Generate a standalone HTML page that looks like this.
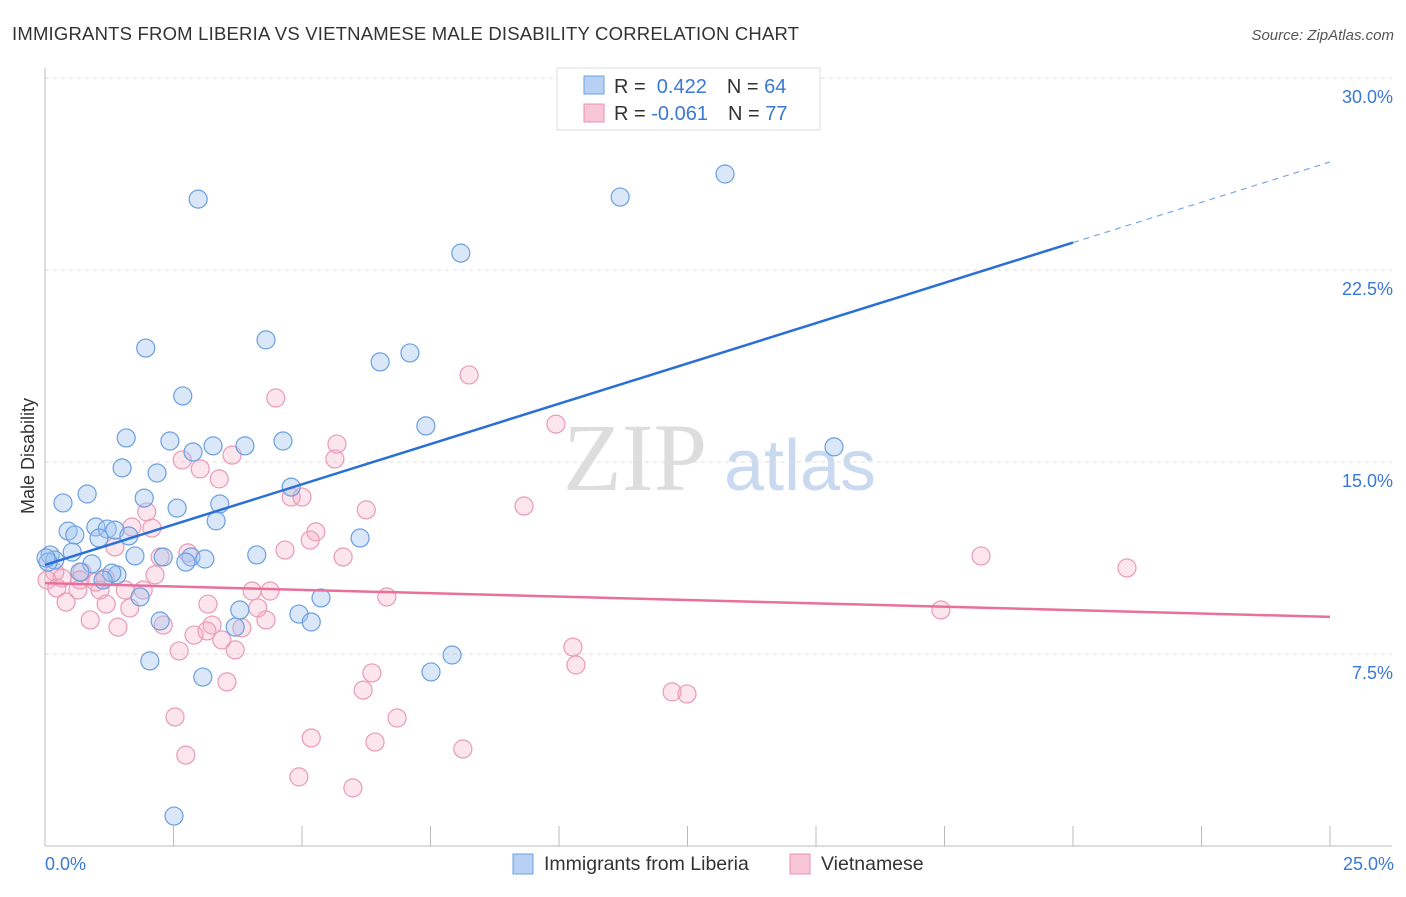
<!DOCTYPE html>
<html><head><meta charset="utf-8"><style>
body{margin:0;background:#fff;font-family:"Liberation Sans",sans-serif}
svg text{font-family:"Liberation Sans",sans-serif}
</style></head><body>
<svg width="1406" height="892" id="chart">
<text x="12" y="40" font-size="18.5" fill="#333" letter-spacing="0.2">IMMIGRANTS FROM LIBERIA VS VIETNAMESE MALE DISABILITY CORRELATION CHART</text>
<text x="1394" y="40" font-size="15" fill="#555" font-style="italic" text-anchor="end">Source: ZipAtlas.com</text>
<text x="635" y="490" font-size="96" fill="#ddd" text-anchor="middle" style="font-family:'Liberation Serif',serif">ZIP</text>
<text x="800" y="490" font-size="72" fill="#c8d9f0" text-anchor="middle">atlas</text>
<g id="grid"></g><g id="pts"></g><g id="lines"></g>
<text transform="translate(34,456) rotate(-90)" font-size="18" fill="#333" text-anchor="middle">Male Disability</text>
<text x="45" y="870" font-size="18" fill="#3a78d6">0.0%</text>
<text x="1394" y="870" font-size="18" fill="#3a78d6" text-anchor="end">25.0%</text>
<g>
<rect x="557" y="68" width="263" height="62" fill="#fff" stroke="#ddd"/>
<rect x="584" y="76" width="20" height="18" fill="#b7d0f4" stroke="#6a9fe0"/>
<rect x="584" y="104" width="20" height="18" fill="#f8c6d6" stroke="#e890ae"/>
<text x="614" y="93" font-size="20" fill="#333">R = <tspan fill="#3a78d6">&#160;0.422</tspan><tspan dx="20">N = </tspan><tspan fill="#3a78d6">64</tspan></text>
<text x="614" y="120" font-size="20" fill="#333">R = <tspan fill="#3a78d6">-0.061</tspan><tspan dx="20">N = </tspan><tspan fill="#3a78d6">77</tspan></text>
</g>
<g>
<rect x="513" y="854" width="20" height="20" fill="#b7d0f4" stroke="#6a9fe0"/>
<text x="544" y="870" font-size="19.5" fill="#333">Immigrants from Liberia</text>
<rect x="790" y="854" width="20" height="20" fill="#f8c6d6" stroke="#e890ae"/>
<text x="821" y="870" font-size="19.5" fill="#333">Vietnamese</text>
</g>
</svg>
<script>
const yTicks=[7.5,15,22.5,30];
const yTickLabels=["7.5%","15.0%","22.5%","30.0%"];
const xTicks=[0,2.5,5,7.5,10,12.5,15,17.5,20,22.5,25];
const blueX=[2.98,13.23,11.19,8.09,1.96,4.30,6.52,7.10,2.68,7.41,1.58,2.43,3.27,3.89,4.63,15.35,1.50,2.18,2.88,0.82,0.35,1.93,2.57,3.40,3.33,4.79,0.45,0.99,1.21,1.36,0.58,1.05,1.63,6.13,1.75,2.30,2.84,3.11,2.74,4.12,0.10,0.19,0.53,0.91,1.40,1.30,1.13,0.68,1.85,3.79,4.94,5.18,5.37,2.24,3.70,2.04,3.07,7.51,7.92,2.51,0.06,0.02];
const blueY=[25.27,26.25,25.35,23.16,19.45,19.77,18.91,19.26,17.58,16.41,15.94,15.82,15.63,15.63,15.82,15.59,14.77,14.57,15.39,13.75,13.40,13.59,13.20,13.36,12.70,14.02,12.30,12.46,12.38,12.34,12.15,12.03,12.11,12.03,11.33,11.29,11.29,11.21,11.09,11.37,11.37,11.17,11.48,11.02,10.59,10.66,10.39,10.70,9.73,9.22,9.06,8.75,9.69,8.79,8.55,7.23,6.60,6.80,7.46,1.17,11.09,11.25];
const pinkX=[8.25,4.49,9.94,5.68,5.64,2.67,3.02,3.64,3.39,4.79,5.00,9.32,6.25,1.98,2.08,1.69,5.27,5.16,4.67,5.80,2.24,2.78,1.36,18.21,21.05,0.19,0.33,0.72,1.17,2.14,0.04,0.23,0.64,1.07,1.56,1.91,4.03,4.38,6.65,0.41,1.19,1.65,3.17,4.14,17.43,0.88,1.42,2.30,3.25,3.83,4.30,2.90,3.15,3.44,3.70,2.61,10.27,10.33,6.36,6.19,3.54,12.20,12.49,2.53,6.85,5.18,6.42,8.13,2.74,4.94,5.99,0.99,0.68];
const pinkY=[18.40,17.50,16.48,15.70,15.12,15.08,14.73,15.27,14.34,13.63,13.63,13.28,13.13,13.05,12.42,12.46,12.27,11.95,11.56,11.29,11.29,11.45,11.68,11.33,10.86,10.70,10.47,10.70,10.47,10.59,10.39,10.08,10.00,10.00,10.00,10.00,9.96,9.96,9.73,9.53,9.45,9.30,9.45,9.30,9.22,8.83,8.55,8.63,8.63,8.52,8.83,8.24,8.40,8.05,7.66,7.62,7.77,7.07,6.76,6.09,6.41,6.02,5.94,5.04,5.00,4.22,4.06,3.79,3.55,2.70,2.27,10.31,10.39];
const blueTrend=[10.98,26.72];
const pinkTrend=[10.27,8.95];
const NS="http://www.w3.org/2000/svg";
const X0=45,X1=1330,Y0=846,YT=78;
const sx=v=>X0+(X1-X0)*v/25;
const sy=v=>Y0-(Y0-YT)*v/30;
function mk(t,a,p){const e=document.createElementNS(NS,t);for(const k in a)e.setAttribute(k,a[k]);p.appendChild(e);return e;}
const grid=document.getElementById('grid');
yTicks.forEach((t,i)=>{
 const l=mk('line',{x1:X0,x2:1392,y1:sy(t),y2:sy(t),stroke:'#ddd','stroke-dasharray':'4,4'},grid);
 
 
 const tx=mk('text',{x:1393,y:sy(t)+25,'font-size':18,fill:'#3a78d6','text-anchor':'end'},grid);
 tx.textContent=yTickLabels[i];
 
 
});
const ax=mk('line',{x1:X0,x2:X0,y1:68,y2:Y0,stroke:'#bbb'},grid);


const bx=mk('line',{x1:X0,x2:1392,y1:Y0,y2:Y0,stroke:'#bbb'},grid);


xTicks.forEach(t=>{
 const l=mk('line',{x1:sx(t),x2:sx(t),y1:826,y2:Y0,stroke:'#bbb'},grid);
 
 
});
const pts=document.getElementById('pts');
pinkX.forEach((v,i)=>{
 const c=mk('circle',{cx:sx(v),cy:sy(pinkY[i]),r:9,fill:'rgba(245,170,195,0.3)',stroke:'#e99ab5','stroke-width':1.2},pts);
 
 
});
blueX.forEach((v,i)=>{
 const c=mk('circle',{cx:sx(v),cy:sy(blueY[i]),r:9,fill:'rgba(160,196,240,0.4)',stroke:'#6a9fe0','stroke-width':1.2},pts);
 
 
});
const lines=document.getElementById('lines');
const bAt=x=>blueTrend[0]+(blueTrend[1]-blueTrend[0])*x/25;
const l1=mk('line',{x1:sx(0),y1:sy(bAt(0)),x2:sx(20),y2:sy(bAt(20)),stroke:'#2a6fd6','stroke-width':2.5},lines);


const l2=mk('line',{x1:sx(20),y1:sy(bAt(20)),x2:sx(25),y2:sy(bAt(25)),stroke:'#7aa6e0','stroke-width':1.2,'stroke-dasharray':'6,5'},lines);


const l3=mk('line',{x1:sx(0),y1:sy(pinkTrend[0]),x2:sx(25),y2:sy(pinkTrend[1]),stroke:'#e8709a','stroke-width':2.5},lines);


</script>
</body></html>
